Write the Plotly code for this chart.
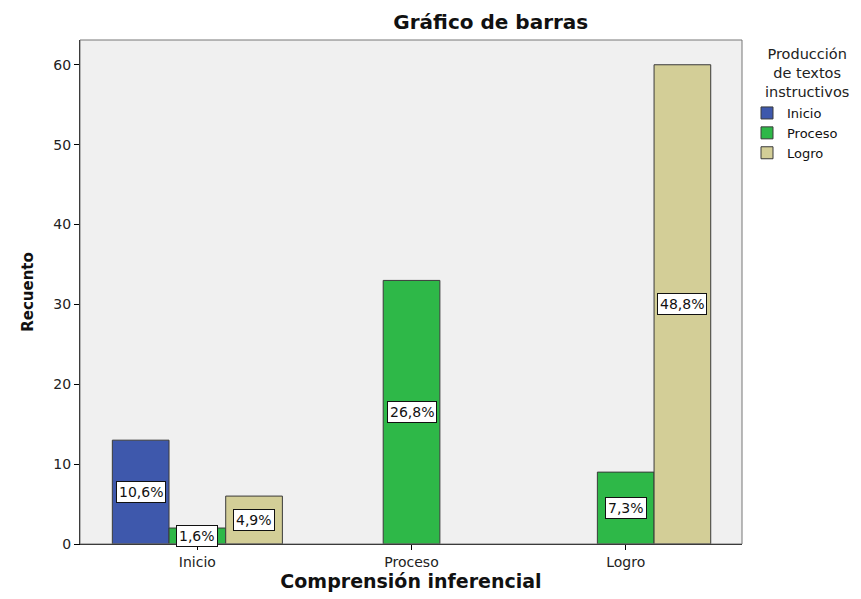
import plotly.graph_objects as go

categories = ["Inicio", "Proceso", "Logro"]
series_names = ["Inicio", "Proceso", "Logro"]
inicio_vals = [13, None, None]
proceso_vals = [2, 33, 9]
logro_vals = [6, None, 60]
pct_inicio = ["10,6%", None, None]
pct_proceso = ["1,6%", "26,8%", "7,3%"]
pct_logro = ["4,9%", None, "48,8%"]
y_ticks = [0, 10, 20, 30, 40, 50, 60]

colors = ["#3E58AC", "#2EB848", "#D3CE97"]
FONT = "DejaVu Sans, Verdana, sans-serif"

# page body has an 8px margin
W, H = 853, 591
ml, mr, mt, mb = 72, 119, 32, 55
x_range = [-0.548, 2.543]
bargap = 0.206

series = [inicio_vals, proceso_vals, logro_vals]
pcts = [pct_inicio, pct_proceso, pct_logro]

fig = go.Figure()
for name, vals, col in zip(series_names, series, colors):
    fig.add_trace(go.Bar(
        x=categories, y=vals, name=name,
        marker=dict(color=col, line=dict(color="#3a3a3a", width=1)),
    ))

plot_w = W - ml - mr
plot_h = H - mt - mb
cat_px = plot_w / (x_range[1] - x_range[0])
bar_px = cat_px * (1 - bargap) / len(series)

for i, (vals, labels) in enumerate(zip(series, pcts)):
    for cat, v, lab in zip(categories, vals, labels):
        if v is None or lab is None:
            continue
        fig.add_annotation(
            x=cat, y=v / 2, xref="x", yref="y", text=lab, showarrow=False,
            xshift=(i - 1) * bar_px,
            bgcolor="white", bordercolor="#111111", borderwidth=1, borderpad=2,
            font=dict(family=FONT, size=14, color="#111111"),
        )

# legend title, centered lines
fig.add_annotation(
    x=1 + 65 / plot_w, y=1 - 4 / plot_h, xref="paper", yref="paper",
    xanchor="center", yanchor="top", align="center", showarrow=False,
    text="Producción<br>de textos<br>instructivos",
    font=dict(family=FONT, size=14.5, color="#222222"),
)

# frame
fig.add_shape(type="rect", xref="paper", yref="paper", x0=0, x1=1, y0=0, y1=1,
              line=dict(color="#777777", width=1), layer="above")

fig.update_layout(
    width=W, height=H,
    margin=dict(l=ml, r=mr, t=mt, b=mb),
    paper_bgcolor="white", plot_bgcolor="#F0F0F0",
    barmode="group", bargap=bargap, bargroupgap=0,
    font=dict(family=FONT, color="#222222"),
    title=dict(text="<b>Gráfico de barras</b>", xref="container", x=0.566, xanchor="center",
               yref="container", y=0.976, yanchor="middle",
               font=dict(family=FONT, size=20, color="#111111")),
    legend=dict(
        x=1 + 5 / plot_w, xanchor="left", y=1 - 58 / plot_h, yanchor="top",
        bgcolor="rgba(0,0,0,0)", font=dict(family=FONT, size=13, color="#111111"),
        itemwidth=30, tracegroupgap=0,
    ),
    showlegend=True,
    xaxis=dict(
        range=x_range, showgrid=False, showline=True, linecolor="black", linewidth=1,
        ticks="outside", ticklen=5, tickcolor="black", zeroline=False,
        tickfont=dict(family=FONT, size=14, color="#222222"),
        title=dict(text="<b>Comprensión inferencial</b>",
                   font=dict(family=FONT, size=19, color="#111111"), standoff=3),
    ),
    yaxis=dict(
        range=[0, 63.1], tickvals=y_ticks, showgrid=False, showline=True, linecolor="black",
        linewidth=1, ticks="outside", ticklen=5, tickcolor="black", zeroline=False,
        tickfont=dict(family=FONT, size=14, color="#222222"),
        title=dict(text="<b>Recuento</b>", font=dict(family=FONT, size=15, color="#111111"),
                   standoff=16),
    ),
)

fig.write_html("out.html")
